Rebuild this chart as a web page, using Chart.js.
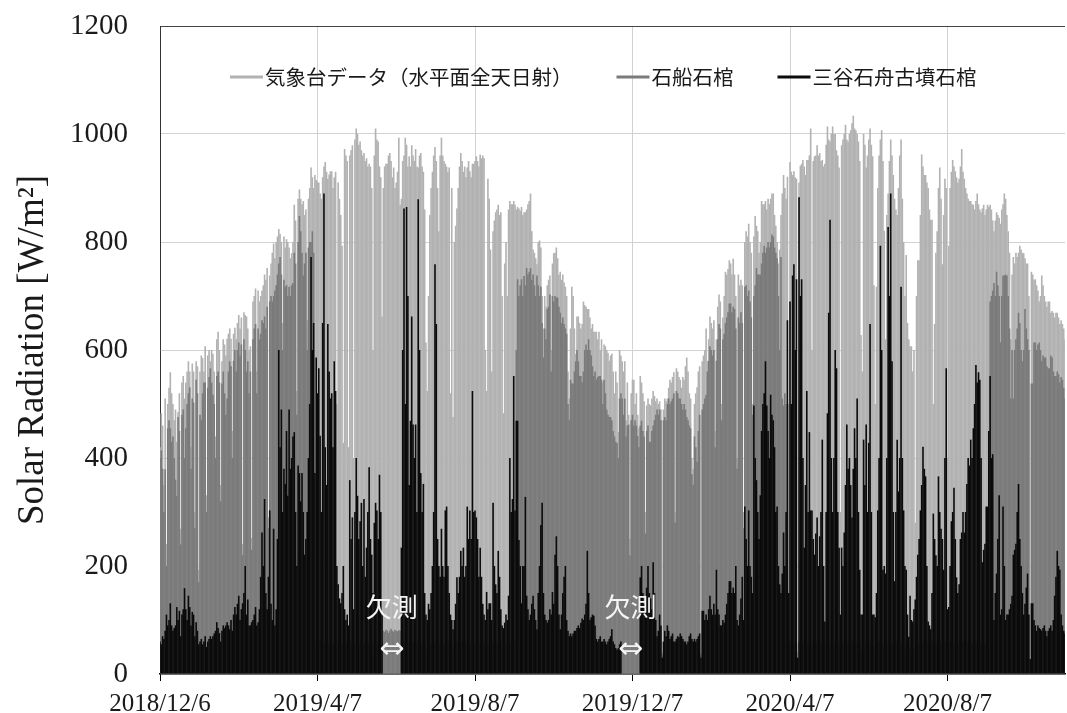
<!DOCTYPE html>
<html>
<head>
<meta charset="utf-8">
<script src="https://cdn.jsdelivr.net/npm/chart.js@4.4.1/dist/chart.umd.min.js"></script>
<style>
  html, body { margin: 0; padding: 0; background: #fff; }
  canvas { display: block; }
</style>
</head>
<body>
<canvas id="chart" width="1067" height="713"></canvas>
<script>
// daily peak solar radiation, one value per day from 2018/12/6
const startDay = new Date(2018, 11, 6);
const dayCount = 702;
const tickDates = ['2018/12/6', '2019/4/7', '2019/8/7', '2019/12/7', '2020/4/7', '2020/8/7'];
const seriesNames = ['気象台データ（水平面全天日射）', '石船石棺', '三谷石舟古墳石棺'];

const meteo = [
  420,483,460,350,510,241,500,530,559,520, 500,470,490,430,485,520,269,540,552,510,
  540,560,579,560,420,575,560,300,579,570, 193,560,590,585,560,607,331,590,600,579,
  600,593,560,440,620,634,600,350,579,620, 610,590,621,630,640,621,450,630,641,620,
  650,665,640,660,241,670,665,662,640,600, 607,252,690,700,714,560,710,690,700,710,
  720,740,730,752,290,738,760,780,797,770, 800,810,824,815,800,650,810,790,805,800,
  790,770,779,800,869,840,524,880,897,880, 870,876,850,860,655,880,900,938,920,900,
  924,915,910,910,890,880,920,940,948,930, 917,925,931,931,900,920,930,500,910,880,
  850,793,428,972,960,950,420,960,970,979, 400,990,1010,1000,980,986,970,960,965,950,
  955,940,945,940,900,600,960,1010,990,986, 940,920,662,900,940,945,945,960,965,950,
  920,938,900,910,930,993,869,880,950,960, 993,980,940,959,940,979,960,950,972,940,
  938,960,965,940,930,860,614,524,700,850, 900,930,960,976,950,900,820,960,993,960,
  950,945,940,930,938,520,900,476,800,830, 862,900,940,965,950,930,940,920,938,950,
  931,920,945,945,950,959,950,940,962,955, 960,955,600,524,917,880,786,560,820,840,
  855,860,869,850,855,700,483,760,800,700, 860,876,870,870,876,869,860,865,862,858,
  865,850,855,855,860,870,876,890,820,786, 780,770,759,800,803,790,700,640,700,680,
  720,730,738,600,760,779,780,790,770,740, 745,730,740,725,717,700,560,510,640,717,
  700,640,593,662,662,650,640,648,690,683, 680,676,676,660,640,648,634,634,634,620,
  634,600,620,540,610,607,600,595,580,590, 593,560,520,560,540,448,600,590,579,560,
  579,470,540,480,250,520,545,545,500,520, 480,455,552,540,520,505,300,497,510,500,
  497,510,524,515,505,510,500,505,490,40, 490,510,505,510,530,545,540,550,559,300,
  566,560,550,545,530,550,545,570,586,560, 520,510,400,380,500,520,531,560,570,40,
  579,590,600,640,579,620,662,650,640,655, 450,620,680,703,690,500,660,700,745,740,
  750,766,760,740,769,740,700,400,740,720, 730,720,300,800,820,810,834,800,780,500,
  810,848,830,820,780,800,876,870,870,876, 860,880,870,880,890,890,850,830,800,760,
  786,850,890,924,900,880,921,500,948,930, 924,931,920,917,40,910,941,945,952,940,
  924,952,952,960,1010,600,950,959,960,979, 960,965,950,952,940,945,980,1014,990,986,
  1000,1014,1000,1000,970,960,938,300,979,990, 1000,1017,990,986,1000,1007,1020,1034,1010,1007,
  1000,986,950,628,560,1000,980,938,960,990, 1010,980,959,720,500,717,900,960,990,1007,
  950,821,620,850,890,950,990,960,924,880, 860,850,900,960,990,880,800,700,776,650,
  620,607,607,560,600,280,700,766,766,850, 962,940,924,924,910,900,860,841,841,500,
  648,780,820,900,938,880,759,850,917,900, 400,793,900,930,952,940,931,920,910,917,
  940,972,930,917,900,890,880,876,876,870, 869,860,876,890,870,860,855,862,869,850,
  860,869,865,869,860,840,820,840,855,850, 845,834,860,870,890,880,850,820,780,620,
  740,772,760,780,772,780,793,786,780,779, 770,760,760,700,28,745,740,730,731,720,
  710,690,700,738,720,700,690,680,690,690, 669,672,669,660,669,669,660,648,655,648,
  640,620
];

const ishifune = [
  400,414,380,300,379,200,455,470,455,430, 440,400,360,330,476,450,240,480,490,400,
  455,500,520,531,380,510,503,270,545,520, 170,480,470,520,540,540,300,530,550,566,
  540,517,500,400,552,560,540,320,538,560, 520,480,510,560,579,570,400,580,600,560,
  600,614,590,610,220,620,600,560,579,520, 560,230,620,640,648,520,640,620,630,655,
  650,662,640,680,270,690,700,690,700,710, 720,740,760,772,740,600,730,717,720,700,
  717,700,720,724,780,760,480,800,848,820, 780,738,760,780,600,790,800,800,820,780,
  60,55,60,50,65,60,55,60,50,60, 60,55,50,60,55,60,55,45,60,55,
  60,55,40,60,55,60,40,55,60,60, 40,55,60,60,55,60,55,60,55,60,
  50,55,60,55,60,45,60,60,55,60, 60,55,50,80,78,82,80,76,80,84,
  80,78,82,80,79,81,80,60,55,60, 60,55,60,55,60,55,60,55,60,55,
  60,55,60,55,60,55,45,40,50,55, 55,60,55,60,55,55,50,60,60,55,
  55,60,55,60,55,40,55,40,50,55, 60,55,60,55,60,55,60,55,60,55,
  55,60,55,60,55,60,55,60,55,60, 55,60,45,40,55,60,55,45,60,55,
  60,55,60,55,60,50,40,55,50,55, 55,60,55,60,55,60,600,731,700,720,
  731,700,737,720,752,740,745,752,730,740, 720,700,738,720,700,717,650,586,640,620,
  676,680,703,560,700,690,700,697,697,680, 669,650,660,648,640,630,500,470,545,538,
  538,560,579,600,579,552,552,540,560,600, 610,600,620,600,590,570,552,560,545,550,
  552,552,545,500,545,520,490,480,476,476, 470,450,440,430,428,400,510,520,510,480,
  510,440,460,462,220,470,480,460,470,460, 441,420,460,469,450,440,260,450,460,430,
  430,450,460,470,480,490,480,490,470,35, 470,476,470,500,510,500,505,510,520,280,
  524,520,510,510,500,490,500,490,476,470, 460,455,370,350,440,420,393,450,480,35,
  490,500,510,517,560,580,607,600,590,600, 420,580,620,648,640,470,620,630,650,660,
  670,686,686,670,680,676,640,380,660,650, 670,650,270,717,720,700,710,690,660,480,
  700,720,752,740,740,740,760,780,793,780, 790,800,790,800,814,810,790,780,770,700,
  600,772,510,497,520,500,60,45,60,55, 60,55,60,55,30,60,55,60,55,60,
  55,60,55,60,55,45,60,55,60,55, 60,55,60,55,60,55,60,55,60,55,
  60,55,60,55,60,55,60,40,60,55, 60,55,60,55,60,55,60,55,60,55,
  60,55,60,45,40,60,55,60,55,60, 55,60,55,50,40,50,55,60,55,60,
  55,50,45,55,60,55,60,55,60,55, 60,55,60,55,60,55,50,45,55,50,
  50,45,50,45,50,35,50,55,55,60, 60,55,60,55,60,55,60,55,60,45,
  50,55,60,55,60,55,50,55,60,55, 40,55,60,55,60,55,60,55,60,55,
  60,55,60,55,60,55,60,55,60,55, 60,55,60,55,60,55,60,55,60,55,
  60,65,400,690,700,710,724,700,745,720, 700,614,700,738,738,740,738,700,640,510,
  600,510,600,620,640,669,650,600,579,600, 676,640,620,600,25,538,538,614,614,600,
  610,614,600,579,590,586,586,570,566,566, 590,586,560,552,552,560,555,540,550,545,
  530,510
];

const mitani = [
  60,55,70,65,80,110,90,100,131,90, 80,85,90,124,100,117,70,110,120,159,
  120,100,145,124,90,115,110,70,96,80, 55,60,65,55,60,70,50,60,65,70,
  65,70,75,80,96,85,76,60,80,90, 85,90,96,90,83,100,80,110,124,110,
  130,145,100,120,131,150,200,110,138,90, 90,96,100,110,124,90,96,120,180,262,
  200,324,150,120,180,303,130,100,269,90, 120,250,600,420,490,300,380,352,450,330,
  490,380,400,440,448,300,200,386,372,320, 372,300,221,250,300,400,500,772,600,650,
  372,586,520,566,441,300,650,890,420,350, 648,560,510,520,420,579,524,200,166,140,
  131,150,200,120,100,110,90,359,250,290, 120,300,400,330,250,283,317,200,324,180,
  234,300,383,250,221,150,280,317,303,250, 369,300,110,null,null,null,null,null,null,null,
  null,null,null,null,null,null,null,234,600,862, 500,865,700,350,469,662,462,400,462,300,
  879,600,372,300,352,150,110,100,130,120, 150,200,300,759,648,250,200,180,269,200,
  180,303,310,200,150,110,100,83,100,130, 179,150,180,228,200,234,180,200,310,250,
  303,250,524,300,303,290,250,180,234,180, 130,110,100,152,120,131,131,100,317,200,
  166,150,228,180,120,90,85,95,110,100, 145,400,300,324,552,303,469,469,248,200,
  131,200,200,328,145,120,100,110,130,145, 120,100,83,150,200,276,317,150,110,100,
  95,100,120,110,152,130,221,255,200,110, 83,110,150,180,200,100,80,70,75,70,
  75,80,80,85,90,85,95,103,100,110, 130,228,150,100,105,110,108,90,65,60,
  65,70,60,60,65,60,55,60,65,70, 83,60,55,48,45,48,55,60,null,null,
  null,null,null,null,null,null,null,null,null,null, null,null,179,200,150,130,120,160,200,150,
  140,120,207,150,100,70,80,110,90,30, 60,80,70,90,80,65,70,75,60,60,
  65,70,68,75,70,65,60,60,55,60, 70,75,65,60,65,60,65,70,75,30,
  117,117,100,110,100,120,145,120,110,130, 110,193,120,110,90,90,100,95,110,130,
  150,172,172,150,160,150,200,100,90,110, 140,180,100,310,250,200,303,200,180,150,
  497,400,359,300,250,331,450,500,520,579, 497,450,400,517,480,470,420,300,310,200,
  166,150,186,262,200,300,655,150,690,500, 738,759,600,731,30,883,700,731,400,234,
  350,524,300,448,303,303,250,221,260,290, 200,255,300,434,200,97,300,483,669,841,
  400,300,400,600,566,300,234,110,234,200, 262,350,462,380,400,350,290,380,455,400,
  510,300,193,110,110,434,350,462,300,428, 648,300,110,110,105,150,303,400,793,600,
  193,200,186,400,828,700,890,579,300,172, 300,434,338,400,717,400,303,200,193,110,
  69,145,100,97,120,138,180,221,250,303, 350,421,380,366,200,97,90,83,150,297,
  250,220,200,366,300,269,250,193,400,566, 120,124,200,283,300,345,250,179,150,166,
  250,262,300,262,300,352,400,386,434,400, 455,500,572,540,559,545,400,207,230,241,
  310,310,450,552,400,407,100,150,186,250, 331,110,120,310,200,100,110,110,120,130,
  145,221,230,241,300,352,250,200,150,110, 130,160,186,110,28,131,131,100,90,80,
  90,85,83,80,85,90,80,70,80,85, 90,80,100,145,180,228,200,193,110,90,
  80,75
];

const labels = [];
for (let i = 0; i < dayCount; i++) {
  const d = new Date(startDay.getFullYear(), startDay.getMonth(), startDay.getDate() + i);
  labels.push(d.getFullYear() + '/' + (d.getMonth() + 1) + '/' + d.getDate());
}

const serif = '"Liberation Serif", "Times New Roman", serif';
const jp = '"Noto Sans CJK JP", sans-serif';

// legend sits inside the plot, so draw it by hand
const insideLegend = {
  id: 'insideLegend',
  afterDatasetsDraw(chart) {
    const ctx = chart.ctx;
    ctx.save();
    ctx.font = '20.5px ' + jp;
    ctx.textBaseline = 'middle';
    let x = 230;
    const y = 77;
    chart.data.datasets.forEach(ds => {
      ctx.fillStyle = ds.backgroundColor;
      ctx.fillRect(x, y - 1.5, 33, 3);
      x += 35;
      ctx.fillStyle = '#1a1a1a';
      ctx.fillText(ds.label, x, y);
      x += ctx.measureText(ds.label).width + 44;
    });
    ctx.restore();
  }
};

// "欠測" marks where the tomb sensor has no data
const missingMarks = {
  id: 'missingMarks',
  afterDatasetsDraw(chart) {
    const xs = chart.scales.x, ys = chart.scales.y, ctx = chart.ctx;
    const runs = [];
    let s = -1;
    mitani.forEach((v, i) => {
      if (v === null && s < 0) s = i;
      if (v !== null && s >= 0) { runs.push([s, i - 1]); s = -1; }
    });
    ctx.save();
    ctx.fillStyle = '#f4f4f4';
    ctx.textAlign = 'center';
    ctx.textBaseline = 'middle';
    runs.forEach(([a, b]) => {
      const cx = xs.getPixelForValue((a + b) / 2);
      ctx.font = '26px ' + jp;
      ctx.fillText('欠測', cx, ys.getPixelForValue(124));
      ctx.font = '30px "DejaVu Sans"';
      ctx.fillText('⇔', cx, ys.getPixelForValue(44));
    });
    ctx.restore();
  }
};

const barStyle = { barPercentage: 1.25, categoryPercentage: 1, borderWidth: 0, grouped: false };

new Chart(document.getElementById('chart'), {
  type: 'bar',
  data: {
    labels: labels,
    datasets: [
      Object.assign({ label: seriesNames[0], data: meteo, backgroundColor: '#b2b2b2', order: 3 }, barStyle),
      Object.assign({ label: seriesNames[1], data: ishifune, backgroundColor: '#7b7b7b', order: 2 }, barStyle),
      Object.assign({ label: seriesNames[2], data: mitani, backgroundColor: '#0b0b0b', order: 1 }, barStyle)
    ]
  },
  options: {
    responsive: false,
    animation: false,
    layout: { padding: { top: 26, right: 2, left: 0, bottom: 0 } },
    plugins: { legend: { display: false }, tooltip: { enabled: false } },
    scales: {
      x: {
        offset: false,
        grid: { offset: false, color: '#d2d2d2', drawTicks: true, tickLength: 7, tickColor: '#000' },
        border: { display: true, color: '#000', width: 1.5 },
        ticks: {
          autoSkip: false, maxRotation: 0, minRotation: 0, padding: 8,
          color: '#1a1a1a', font: { family: serif, size: 25 },
          callback(value) {
            const lab = this.getLabelForValue(value);
            return tickDates.includes(lab) ? lab : null;
          }
        },
        afterFit(scale) { scale.height = 39; }
      },
      y: {
        min: 0, max: 1200,
        grid: {
          drawTicks: true, tickLength: 29, tickColor: 'rgba(0,0,0,0)',
          color: c => (c.tick && c.tick.value === 1200 ? '#444' : '#d2d2d2')
        },
        border: { display: true, color: '#333', width: 1 },
        ticks: {
          stepSize: 200, padding: 3, color: '#1a1a1a', font: { family: serif, size: 29 },
          callback: v => String(v)
        },
        title: {
          display: true, text: 'Solar Radiation [W/m²]', color: '#1a1a1a',
          font: { family: serif, size: 37 }, padding: { top: 11, bottom: 0 }
        },
        afterFit(scale) { scale.width = 160; }
      }
    }
  },
  plugins: [insideLegend, missingMarks]
});
</script>
</body>
</html>
